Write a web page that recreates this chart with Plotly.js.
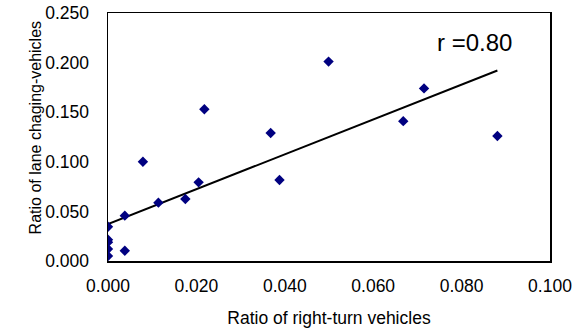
<!DOCTYPE html>
<html>
<head>
<meta charset="utf-8">
<script src="https://cdn.plot.ly/plotly-3.0.1.min.js"></script>
<style>html,body{margin:0;padding:0;background:#fff;}#chart{width:581px;height:328px;}</style>
</head>
<body>
<div id="chart"></div>
<script>
const rightTurnRatio = [0, 0, 0, 0, 0, 0.0038, 0.0038, 0.0079, 0.0114, 0.0175, 0.0205, 0.0218, 0.0368, 0.0388, 0.0499, 0.0668, 0.0715, 0.0881];
const laneChangeRatio = [0.0346, 0.0215, 0.0190, 0.0121, 0.0050, 0.0457, 0.0104, 0.100, 0.0588, 0.0625, 0.0793, 0.153, 0.129, 0.0817, 0.201, 0.141, 0.174, 0.126];
// Trend line end points
const trendX = [0, 0.0881];
const trendY = [0.0373, 0.192];
const xTicks = [0, 0.02, 0.04, 0.06, 0.08, 0.1];
const xTickLabels = ["0.000", "0.020", "0.040", "0.060", "0.080", "0.100"];
const yTicks = [0, 0.05, 0.1, 0.15, 0.2, 0.25];
const yTickLabels = ["0.000", "0.050", "0.100", "0.150", "0.200", "0.250"];
const annotationText = "r =0.80";
const xTitle = "Ratio of right-turn vehicles";
const yTitle = "Ratio of lane chaging-vehicles";

const font = "Liberation Sans, Arial, sans-serif";

const traces = [
  {
    x: trendX, y: trendY, mode: "lines", type: "scatter",
    line: {color: "#000000", width: 2}, hoverinfo: "skip", showlegend: false
  },
  {
    x: rightTurnRatio, y: laneChangeRatio, mode: "markers", type: "scatter",
    marker: {symbol: "diamond", color: "#000080", size: 8, line: {width: 0}},
    showlegend: false
  }
];

const layout = {
  width: 581, height: 328,
  margin: {l: 108, r: 31, t: 13, b: 67},
  paper_bgcolor: "#ffffff", plot_bgcolor: "#ffffff",
  font: {family: font, color: "#000000", size: 17},
  showlegend: false,
  xaxis: {
    range: [0, 0.1], tickvals: xTicks, ticktext: xTickLabels,
    showgrid: false, zeroline: false, showline: true, mirror: true,
    linecolor: "#000000", linewidth: 1.5, ticks: "",
    tickfont: {family: font, size: 17.5, color: "#000000"},
    ticklabelstandoff: 8,
    title: {text: xTitle, font: {family: font, size: 17.5, color: "#000000"}, standoff: 17}
  },
  yaxis: {
    range: [0, 0.25], tickvals: yTicks, ticktext: yTickLabels,
    showgrid: false, zeroline: false, showline: true, mirror: true,
    linecolor: "#000000", linewidth: 1.5, ticks: "",
    tickfont: {family: font, size: 17.5, color: "#000000"},
    ticklabelstandoff: 14
  },
  annotations: [
    {
      text: annotationText, xref: "paper", yref: "paper",
      x: 0.74, y: 0.883, xanchor: "left", yanchor: "middle", showarrow: false,
      font: {family: font, size: 24, color: "#000000"}
    },
    {
      text: yTitle, xref: "paper", yref: "paper", textangle: -90,
      x: -0.165, y: 0.535, xanchor: "center", yanchor: "middle", showarrow: false,
      font: {family: font, size: 16, color: "#000000"}
    }
  ]
};

Plotly.newPlot("chart", traces, layout, {displayModeBar: false, staticPlot: true});
</script>
</body>
</html>
